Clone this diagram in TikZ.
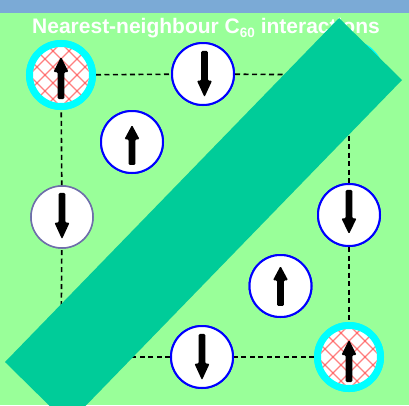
\documentclass[tikz,border=0pt]{standalone}
\usepackage{fontspec}
\setmainfont{Liberation Sans}
\definecolor{bggreen}{RGB}{153,255,153}
\definecolor{topbar}{RGB}{123,170,214}
\definecolor{bandgreen}{RGB}{0,204,153}
\definecolor{ringcyan}{RGB}{0,255,255}
\definecolor{siteblue}{RGB}{0,0,255}
\definecolor{siteslate}{RGB}{110,110,170}
\definecolor{hatchred}{RGB}{255,60,60}
\tikzset{
  site/.style={circle, fill=white, draw=siteblue, line width=2pt, minimum size=62pt, inner sep=0pt},
  slatesite/.style={site, draw=siteslate, line width=1.5pt},
  cornersite/.style={circle, fill=white, draw=ringcyan, line width=7pt, minimum size=63pt, inner sep=0pt},
  bond/.style={draw=black, line width=1.6pt, dash pattern=on 5pt off 3.5pt},
  titletext/.style={text=white, font=\bfseries\fontsize{21}{25}\selectfont, anchor=base, inner sep=0pt},
  spin/.pic={
    \fill[black, rounded corners=1.2pt]
      (0,-21) -- (7.6,-6) -- (3.3,-6) -- (3.3,21) -- (-3.3,21) -- (-3.3,-6) -- (-7.6,-6) -- cycle;
  },
  hatch/.pic={
    \begin{scope}
      \clip (0,0) circle (28);
      \foreach \k in {-4,...,4} {
        \draw[hatchred, line width=1.1pt, opacity=0.65] (\k*16-40,-40) -- (\k*16+40,40);
        \draw[hatchred, line width=1.1pt, opacity=0.65] (\k*16-40,40) -- (\k*16+40,-40);
      }
    \end{scope}
  }
}
\begin{document}
\begin{tikzpicture}[x=1pt, y=-1pt]
  \useasboundingbox (0,0) rectangle (409,405);
  % backdrop and header strip
  \fill[bggreen] (0,0) rectangle (409,405);
  \fill[topbar] (0,0) rectangle (409,13);

  % lattice sites
  \coordinate (bl) at (61,357);
  \node[cornersite] (tl) at (61,75) {};
  \node[cornersite] (tr) at (349,75) {};
  \node[cornersite] (br) at (349,357) {};
  \node[site] (tm) at (203,74) {};
  \node[slatesite] (lm) at (62,217) {};
  \node[site] (rm) at (349,215) {};
  \node[site] (bm) at (202,357) {};
  \node[site] (ca) at (132,142) {};
  \node[site] (cb) at (280.5,286) {};

  % nearest-neighbour bonds around the square
  \path[bond] (tl) -- (tm);
  \path[bond] (tm) -- (tr);
  \path[bond] (tr) -- (rm);
  \path[bond] (rm) -- (br);
  \path[bond] (br) -- (bm);
  \path[bond] (bm) -- (bl);
  \path[bond] (bl) -- (lm);
  \path[bond] (lm) -- (tl);

  % redraw sites above the bonds
  \node[cornersite] at (tl) {};
  \node[cornersite] at (tr) {};
  \node[cornersite] at (br) {};
  \node[site] at (tm) {};
  \node[slatesite] at (lm) {};
  \node[site] at (rm) {};
  \node[site] at (bm) {};
  \node[site] at (ca) {};
  \node[site] at (cb) {};

  % hatching on the corner sites
  \pic at (tl) {hatch};
  \pic at (tr) {hatch};
  \pic at (br) {hatch};

  % spins
  \pic at ([yshift=-3pt]tl.center) {spin};
  \pic at ([yshift=-4pt]br.center) {spin};
  \pic[yscale=0.95] at ([yshift=-3pt]ca.center) {spin};
  \pic[yscale=0.95] at (cb) {spin};
  \pic[rotate=180, yscale=1.1] at ([xshift=1.5pt]tm.center) {spin};
  \pic[rotate=180, yscale=1.1] at ([yshift=1pt]lm.center) {spin};
  \pic[rotate=180, yscale=1.05] at ([yshift=3pt]rm.center) {spin};
  \pic[rotate=180, yscale=1.1] at (bm) {spin};

  % heading
  \node[titletext] (head) at (206,33) {Nearest-neighbour C\raisebox{-4.5pt}{\fontsize{13.5}{14}\selectfont 60} interactions};

  % diagonal band across the lattice
  \coordinate (b1) at (339,18);
  \coordinate (b2) at (402,80);
  \coordinate (b3) at (68,424);
  \coordinate (b4) at (5,362);
  \fill[bandgreen] (b1) -- (b2) -- (b3) -- (b4) -- cycle;
\end{tikzpicture}
\end{document}
